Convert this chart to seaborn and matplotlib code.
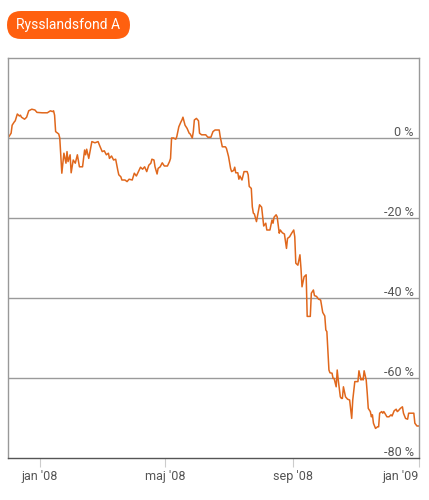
import numpy as np
import pandas as pd
import matplotlib
matplotlib.use("Agg")
import matplotlib.pyplot as plt
import matplotlib.dates as mdates
from matplotlib.patches import FancyBboxPatch
from matplotlib.transforms import IdentityTransform, blended_transform_factory
import seaborn as sns

# Data: days since start date, change in percent
START = "2007-12-01"
DAYS = [0, 3, 4, 6, 7, 9, 11, 12, 13, 16, 18, 20, 23, 26, 28, 33, 38, 41, 43, 44,
        45, 46, 49, 50, 51, 52, 54, 56, 57, 58, 60, 61, 63, 65, 67, 69, 72, 74, 75, 76,
        78, 80, 81, 84, 87, 89, 91, 93, 95, 97, 98, 100, 102, 104, 106, 107, 109, 110, 113, 115,
        117, 120, 122, 124, 126, 128, 130, 132, 134, 136, 138, 139, 141, 142, 144, 145, 147, 149, 151, 154,
        156, 157, 158, 160, 162, 163, 165, 167, 168, 169, 171, 173, 175, 176, 178, 179, 180, 182, 184, 185,
        187, 191, 193, 196, 198, 200, 204, 205, 206, 207, 210, 211, 213, 215, 216, 218, 219, 220, 222, 223,
        224, 226, 227, 228, 231, 232, 233, 235, 236, 237, 238, 240, 242, 243, 245, 246, 247, 249, 250, 253,
        255, 256, 257, 259, 260, 262, 263, 265, 267, 269, 270, 272, 274, 276, 277, 278, 280, 282, 283, 284,
        286, 288, 289, 292, 293, 295, 296, 298, 300, 302, 304, 306, 307, 308, 310, 311, 313, 314, 315, 317,
        318, 319, 321, 322, 323, 324, 326, 328, 330, 332, 333, 335, 338, 339, 341, 342, 343, 344, 346, 347,
        348, 350, 351, 352, 353, 355, 357, 358, 359, 361, 362, 363, 364, 366, 368, 370, 371, 373, 375, 376,
        377, 379, 381, 382, 384, 386, 387, 390, 392, 393, 395, 397]
CHANGE = [0.0, 1.2, 3.2, 4.0, 4.3, 6.0, 5.5, 5.7, 5.2, 4.7, 5.2, 6.8, 7.2, 7.0, 6.4, 6.3, 6.3, 6.8, 6.6, 6.8,
          5.7, 1.6, 1.0, 0.0, -4.2, -8.8, -3.8, -6.3, -3.4, -5.9, -4.2, -8.7, -5.5, -6.3, -4.2, -7.2, -7.2, -3.0, -4.2, -2.8,
          -5.1, -2.3, -0.9, -1.2, -0.9, -2.2, -3.4, -3.2, -4.2, -3.8, -5.1, -4.5, -5.5, -5.3, -8.0, -9.2, -9.7, -10.5, -10.5, -10.9,
          -10.3, -10.5, -8.8, -9.5, -8.4, -7.3, -7.8, -7.2, -8.4, -6.8, -6.3, -5.3, -5.5, -7.2, -9.0, -7.6, -7.2, -6.2, -7.0, -7.0,
          -5.9, -5.1, 0.0, 0.0, -0.3, 0.3, 2.8, 4.0, 4.5, 5.2, 3.2, 2.4, 1.2, 1.0, 0.0, 1.6, 4.5, 4.9, 4.3, 1.2,
          0.8, 0.8, 0.2, 0.2, 1.6, 2.0, 2.0, 0.3, -0.9, -2.2, -2.2, -2.6, -4.6, -7.6, -8.4, -8.1, -7.3, -8.7, -8.7, -10.3,
          -9.5, -10.5, -9.5, -8.4, -8.4, -9.2, -12.1, -12.6, -17.2, -18.8, -19.0, -20.9, -18.0, -16.7, -17.3, -19.7, -22.0, -21.3, -23.0, -23.0,
          -20.5, -21.3, -19.8, -19.2, -19.7, -23.8, -23.0, -23.7, -24.0, -27.6, -25.1, -24.7, -23.8, -23.0, -24.7, -31.3, -31.8, -29.2, -32.6, -37.2,
          -34.7, -34.2, -44.6, -44.6, -38.8, -38.0, -39.4, -39.6, -40.3, -40.5, -43.6, -44.5, -48.0, -48.4, -58.0, -58.7, -58.8, -60.1, -60.1, -62.2,
          -58.0, -60.5, -64.7, -65.1, -65.1, -62.2, -64.7, -65.3, -65.5, -70.1, -65.5, -60.9, -60.9, -58.2, -60.5, -60.1, -60.5, -58.2, -60.5, -63.8,
          -67.6, -68.4, -69.7, -69.2, -71.3, -72.6, -72.2, -72.2, -68.8, -68.4, -68.8, -68.4, -68.8, -69.7, -69.7, -69.2, -69.5, -68.2, -67.8, -68.4,
          -68.2, -67.6, -67.2, -68.8, -70.1, -70.3, -68.8, -68.8, -68.8, -71.3, -72.0, -72.0]

FUND_NAME = "Rysslandsfond A"
Y_TICKS = [0, -20, -40, -60, -80]
Y_LABELS = ["0 %", "-20 %", "-40 %", "-60 %", "-80 %"]
X_TICKS = ["2008-01-01", "2008-05-01", "2008-09-01", "2009-01-01"]
X_LABELS = ["jan '08", "maj '08", "sep '08", "jan '09"]

LINE_COLOR = "#e0671c"
BADGE_COLOR = "#ff600f"

sns.set_theme(style="white")
plt.rcParams['font.family'] = ['Roboto', 'DejaVu Sans']

df = pd.DataFrame({
    "date": pd.Timestamp(START) + pd.to_timedelta(DAYS, unit="D"),
    "change": CHANGE,
})

W, H = 429, 500
fig = plt.figure(figsize=(W / 100, H / 100), dpi=100)
ax = fig.add_axes([8 / W, 1 - 458 / H, 411 / W, 400 / H])

sns.lineplot(data=df, x="date", y="change", ax=ax, color=LINE_COLOR, linewidth=1.1)

ax.set_xlim(pd.Timestamp(START), pd.Timestamp("2009-01-01"))
ax.set_ylim(-80, 20)
ax.set_xlabel("")
ax.set_ylabel("")

# horisontella stödlinjer
for v in Y_TICKS[:-1]:
    ax.axhline(v, color="#9a9a9a", linewidth=1.0, zorder=0)

ax.set_yticks([])
trans = blended_transform_factory(ax.transAxes, ax.transData)
for v, lab in zip(Y_TICKS, Y_LABELS):
    ax.text(0.987, v + 0.6, lab, transform=trans, ha="right", va="baseline",
            fontsize=9, color="#555555")

xt = pd.to_datetime(X_TICKS)
ax.set_xticks(xt)
ax.set_xticklabels(X_LABELS, fontsize=9, color="#555555")
ax.tick_params(axis="x", direction="out", length=6.5, width=0.8, color="#cccccc",
               pad=2, bottom=True)
ax.get_xticklabels()[-1].set_horizontalalignment("right")

for side in ["left", "top", "right"]:
    ax.spines[side].set_color("#999999")
    ax.spines[side].set_linewidth(1.0)
ax.spines["bottom"].set_color("#555555")
ax.spines["bottom"].set_linewidth(1.0)

# rubrikbricka
badge = FancyBboxPatch((7, H - 39), 123, 28,
                       boxstyle="round,pad=0,rounding_size=14",
                       transform=IdentityTransform(), facecolor=BADGE_COLOR,
                       edgecolor="none")
fig.patches.append(badge)
fig.text(68.5 / W, 1 - 25.5 / H, FUND_NAME, ha="center", va="center",
         color="white", fontsize=10)

fig.savefig("out.png", dpi=100)
